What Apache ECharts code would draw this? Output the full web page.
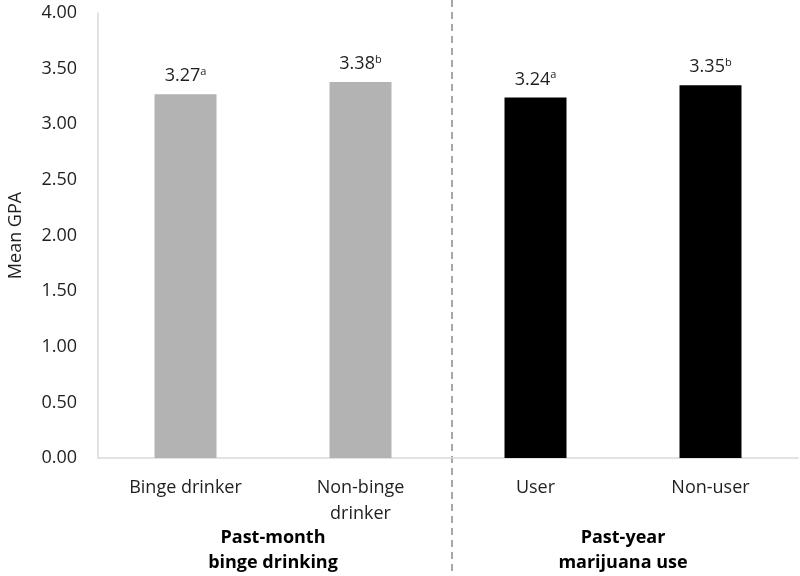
<!DOCTYPE html>
<html><head><meta charset="utf-8">
<script src="https://cdn.jsdelivr.net/npm/echarts@6/dist/echarts.min.js"></script>
<style>html,body{margin:0;padding:0;background:#fff}#c{width:800px;height:576px}</style>
</head><body><div id="c"></div>
<script>
const categories = ["Binge drinker", "Non-binge\ndrinker", "User", "Non-user"];
const groups = ["Past-month\nbinge drinking", "Past-year\nmarijuana use"];
const values = [3.27, 3.38, 3.24, 3.35];
const letters = ["a", "b", "a", "b"];
const barColors = ["#b3b3b3", "#b3b3b3", "#000000", "#000000"];
const yTicks = { min: 0, max: 4, interval: 0.5 };

const FONT = "Open Sans";
const TXT = "#1f1f1f";
const FS = 18;
const chart = echarts.init(document.getElementById('c'), null, { renderer: 'canvas' });
chart.setOption({
  animation: false,
  textStyle: { fontFamily: FONT },
  grid: { left: 98, right: 2, top: 13, bottom: 118, containLabel: false, outerBoundsMode: 'none' },
  xAxis: [{
    type: 'category', data: categories,
    axisLine: { lineStyle: { color: '#d9d9d9', width: 1.5 } },
    axisTick: { show: false },
    axisLabel: { color: TXT, fontSize: FS, fontFamily: FONT, margin: 17, lineHeight: 26, verticalAlign: 'top' }
  }, {
    type: 'category', data: groups, position: 'bottom', gridIndex: 0,
    axisLine: { show: false }, axisTick: { show: false },
    axisLabel: { color: '#000', fontSize: FS, fontWeight: 'bold', fontFamily: FONT, margin: 67, lineHeight: 25, verticalAlign: 'top' }
  }],
  yAxis: {
    type: 'value', min: yTicks.min, max: yTicks.max, interval: yTicks.interval,
    name: 'Mean GPA', nameLocation: 'middle', nameGap: 73, nameRotate: 90, nameMoveOverlap: false,
    nameTextStyle: { color: TXT, fontSize: FS, fontFamily: FONT },
    axisLine: { show: true, lineStyle: { color: '#d9d9d9', width: 1.5 } },
    axisTick: { show: false }, splitLine: { show: false },
    axisLabel: { color: TXT, fontSize: FS, fontFamily: FONT, margin: 21,
      formatter: v => v.toFixed(2) }
  },
  series: [{
    type: 'bar', xAxisIndex: 0, barWidth: 62,
    data: values.map((v, i) => ({ value: v, itemStyle: { color: barColors[i] } })),
    label: {
      show: true, position: 'top', distance: 8,
      formatter: p => '{v|' + p.value.toFixed(2) + '}{s|' + letters[p.dataIndex] + '}',
      rich: {
        v: { fontSize: FS, color: TXT, fontFamily: FONT },
        s: { fontSize: 11, color: TXT, fontFamily: FONT, verticalAlign: 'top', padding: [0, 0, 9, 0] }
      }
    }
  }],
  graphic: [{
    type: 'line', shape: { x1: 452, y1: 0, x2: 452, y2: 576 },
    style: { stroke: '#a6a6a6', lineWidth: 2, lineDash: [7, 5] }
  }]
});
</script></body></html>
